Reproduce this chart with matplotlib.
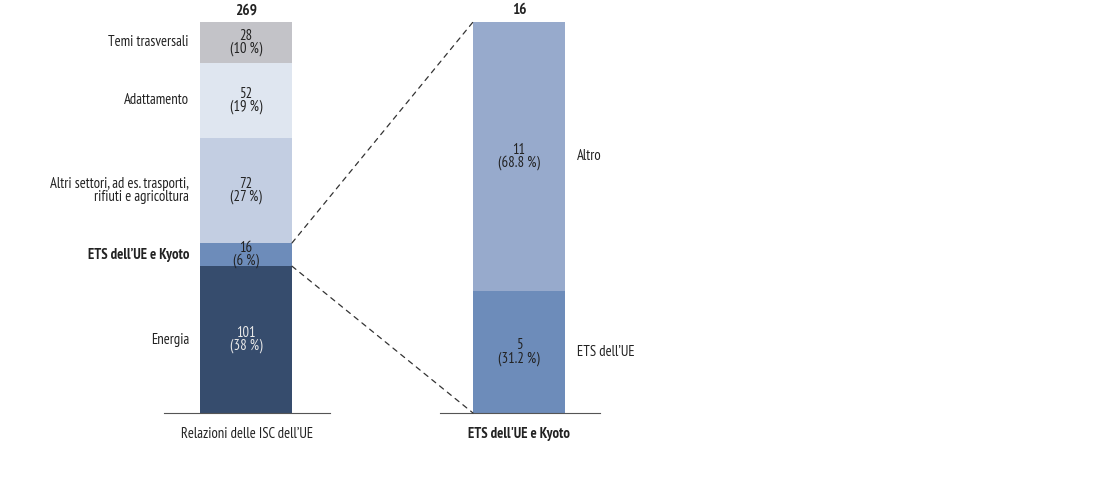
import matplotlib
matplotlib.use('Agg')
from matplotlib import pyplot as plt
from matplotlib.patches import ConnectionPatch

plt.rcParams['font.family'] = ['PT Sans Narrow', 'Roboto Condensed', 'DejaVu Sans']

# left bar: all ISC reports
leftCats = ['Energia', "ETS dell\u2019UE e Kyoto",
            'Altri settori, ad es. trasporti,\nrifiuti e agricoltura',
            'Adattamento', 'Temi trasversali']
leftVals = [101, 16, 72, 52, 28]
leftPcts = ['38 %', '6 %', '27 %', '19 %', '10 %']
leftColors = ['#364c6d', '#6d8cba', '#c3cee2', '#dfe6f0', '#c3c3c8']
leftTxtColors = ['#e8e8e8', '#222222', '#222222', '#222222', '#222222']
leftBold = [False, True, False, False, False]
leftTitle = "Relazioni delle ISC dell\u2019UE"

# right bar: breakdown of ETS and Kyoto
rightCats = ["ETS dell\u2019UE", 'Altro']
rightVals = [5, 11]
rightPcts = ['31.2 %', '68.8 %']
rightColors = ['#6d8cba', '#97aacc']
rightTitle = "ETS dell'UE e Kyoto"

W, H = 1097, 479
FS = 10.5
fig = plt.figure(figsize=(W / 100, H / 100), dpi=100)

def pxAxes(x0, x1, ytop, ybot):
  return fig.add_axes([x0 / W, (H - ybot) / H, (x1 - x0) / W, (ybot - ytop) / H])

axL = pxAxes(164, 330, 22, 413)
axR = pxAxes(440, 600, 22, 413)

def drawStack(ax, vals, pcts, colors, txtColors, xlim, barLeft, barW):
  bottom = 0
  for v, p, c, tc in zip(vals, pcts, colors, txtColors):
    ax.bar(barLeft, v, width=barW, bottom=bottom, color=c, align='edge')
    ax.text(barLeft + barW / 2, bottom + v / 2, f"{v}\n({p})", ha='center', va='center',
            color=tc, fontsize=FS, linespacing=0.9)
    bottom += v
  ax.set_xlim(*xlim)
  ax.set_ylim(0, bottom)
  for s in ['top', 'right', 'left']:
    ax.spines[s].set_visible(False)
  ax.spines['bottom'].set_color('#555555')
  ax.set_xticks([])
  ax.set_yticks([])
  ax.text(barLeft + barW / 2, bottom * 1.012, str(bottom), ha='center', va='bottom',
          fontsize=FS + 0.5, fontweight='bold', color='#222222')
  return bottom

# x in pixel units inside each axes
totL = drawStack(axL, leftVals, leftPcts, leftColors, leftTxtColors, (0, 166), 36, 92)
totR = drawStack(axR, rightVals, rightPcts, rightColors, ['#222222'] * 2, (0, 160), 33, 92)

bottom = 0
for v, cat, b in zip(leftVals, leftCats, leftBold):
  axL.text(25, bottom + v / 2, cat, ha='right', va='center', fontsize=FS,
           fontweight='bold' if b else 'normal', color='#222222', linespacing=0.95)
  bottom += v

bottom = 0
for v, cat in zip(rightVals, rightCats):
  axR.text(137, bottom + v / 2, cat, ha='left', va='center', fontsize=FS, color='#222222')
  bottom += v

axL.text(83, -totL * 0.035, leftTitle, ha='center', va='top', fontsize=FS, color='#222222')
axR.text(79, -totR * 0.035, rightTitle, ha='center', va='top', fontsize=FS,
         fontweight='bold', color='#222222')

# dashed connectors from the ETS segment to the right bar
etsLow = leftVals[0]
etsHigh = leftVals[0] + leftVals[1]
for yl, yr in [(etsHigh, totR), (etsLow, 0)]:
  con = ConnectionPatch(xyA=(128, yl), coordsA=axL.transData, xyB=(33, yr), coordsB=axR.transData,
                        linestyle=(0, (4, 4)), color='#333333', linewidth=0.9)
  fig.add_artist(con)

plt.savefig('out.png', dpi=100)
